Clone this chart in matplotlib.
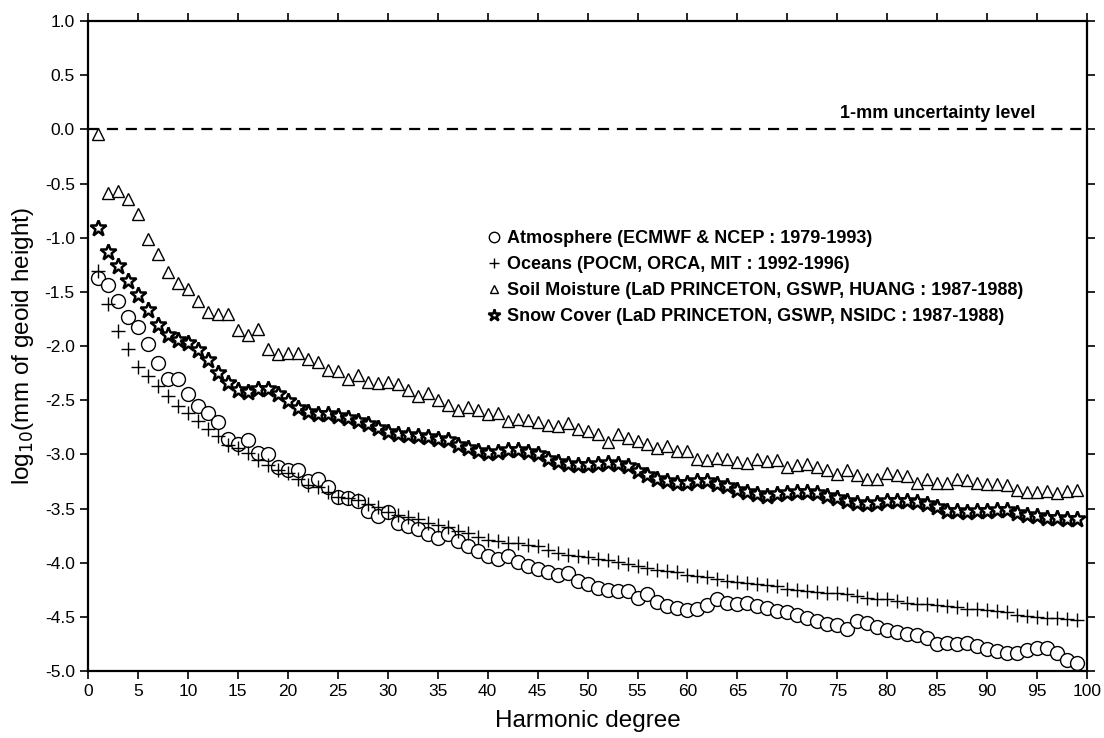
import numpy as np
import matplotlib
matplotlib.use("Agg")
import matplotlib.pyplot as plt
from matplotlib.ticker import MultipleLocator, FormatStrFormatter

plt.rcParams["font.family"] = ["Liberation Sans", "DejaVu Sans"]
plt.rcParams["axes.unicode_minus"] = False

degree = np.arange(1, 100)

atmosphere = [
    -1.37, -1.44, -1.58, -1.73, -1.82, -1.98, -2.16, -2.30, -2.30, -2.44,
    -2.55, -2.62, -2.70, -2.86, -2.90, -2.87, -2.99, -3.00, -3.12, -3.14,
    -3.14, -3.25, -3.23, -3.30, -3.39, -3.40, -3.43, -3.52, -3.57, -3.53,
    -3.63, -3.66, -3.69, -3.74, -3.77, -3.74, -3.80, -3.85, -3.89, -3.94,
    -3.97, -3.94, -3.99, -4.03, -4.06, -4.09, -4.11, -4.10, -4.17, -4.20,
    -4.23, -4.25, -4.26, -4.26, -4.33, -4.29, -4.36, -4.40, -4.42, -4.44,
    -4.43, -4.39, -4.34, -4.37, -4.38, -4.37, -4.40, -4.42, -4.45, -4.46,
    -4.48, -4.51, -4.54, -4.57, -4.58, -4.61, -4.54, -4.56, -4.59, -4.62,
    -4.64, -4.66, -4.67, -4.70, -4.75, -4.74, -4.75, -4.74, -4.77, -4.80,
    -4.82, -4.83, -4.83, -4.81, -4.79, -4.79, -4.83, -4.90, -4.93,
]

oceans = [
    -1.31, -1.61, -1.86, -2.03, -2.19, -2.28, -2.37, -2.46, -2.55, -2.62,
    -2.69, -2.77, -2.83, -2.91, -2.94, -2.99, -3.05, -3.10, -3.14, -3.17,
    -3.23, -3.28, -3.30, -3.35, -3.39, -3.40, -3.42, -3.46, -3.49, -3.53,
    -3.56, -3.58, -3.60, -3.63, -3.65, -3.67, -3.71, -3.73, -3.76, -3.79,
    -3.80, -3.82, -3.82, -3.84, -3.85, -3.88, -3.91, -3.93, -3.94, -3.95,
    -3.97, -3.98, -3.99, -4.01, -4.03, -4.05, -4.07, -4.08, -4.09, -4.11,
    -4.12, -4.13, -4.15, -4.17, -4.18, -4.19, -4.20, -4.21, -4.22, -4.24,
    -4.25, -4.26, -4.27, -4.28, -4.28, -4.29, -4.31, -4.33, -4.34, -4.34,
    -4.35, -4.37, -4.38, -4.38, -4.39, -4.40, -4.41, -4.43, -4.43, -4.44,
    -4.45, -4.46, -4.48, -4.49, -4.50, -4.51, -4.51, -4.52, -4.53,
]

soil_moisture = [
    -0.04, -0.59, -0.57, -0.64, -0.78, -1.01, -1.15, -1.32, -1.42, -1.47,
    -1.58, -1.69, -1.70, -1.70, -1.85, -1.90, -1.84, -2.03, -2.07, -2.06,
    -2.06, -2.12, -2.15, -2.22, -2.23, -2.30, -2.27, -2.33, -2.34, -2.33,
    -2.35, -2.41, -2.46, -2.43, -2.50, -2.54, -2.59, -2.56, -2.59, -2.63,
    -2.62, -2.69, -2.67, -2.68, -2.70, -2.73, -2.74, -2.71, -2.77, -2.78,
    -2.81, -2.89, -2.81, -2.85, -2.88, -2.90, -2.94, -2.92, -2.97, -2.97,
    -3.04, -3.05, -3.03, -3.04, -3.07, -3.08, -3.04, -3.06, -3.05, -3.12,
    -3.10, -3.09, -3.12, -3.14, -3.18, -3.14, -3.19, -3.23, -3.23, -3.17,
    -3.19, -3.20, -3.26, -3.23, -3.26, -3.26, -3.23, -3.24, -3.26, -3.27,
    -3.27, -3.28, -3.33, -3.35, -3.35, -3.34, -3.36, -3.34, -3.33,
]

snow_cover = [
    -0.91, -1.13, -1.26, -1.40, -1.53, -1.67, -1.81, -1.90, -1.94, -1.97,
    -2.04, -2.13, -2.25, -2.34, -2.41, -2.42, -2.40, -2.40, -2.44, -2.51,
    -2.57, -2.61, -2.63, -2.63, -2.65, -2.66, -2.69, -2.72, -2.76, -2.79,
    -2.81, -2.82, -2.83, -2.84, -2.86, -2.87, -2.91, -2.94, -2.97, -2.99,
    -2.98, -2.96, -2.96, -2.98, -3.00, -3.04, -3.07, -3.09, -3.10, -3.10,
    -3.09, -3.08, -3.09, -3.11, -3.15, -3.19, -3.23, -3.25, -3.26, -3.26,
    -3.25, -3.25, -3.27, -3.29, -3.33, -3.35, -3.37, -3.38, -3.37, -3.36,
    -3.35, -3.35, -3.36, -3.38, -3.40, -3.43, -3.45, -3.46, -3.45, -3.43,
    -3.43, -3.43, -3.44, -3.46, -3.49, -3.52, -3.52, -3.53, -3.52, -3.52,
    -3.51, -3.51, -3.54, -3.56, -3.57, -3.59, -3.59, -3.60, -3.60,
]

labels = [
    "Atmosphere (ECMWF & NCEP : 1979-1993)",
    "Oceans (POCM, ORCA, MIT : 1992-1996)",
    "Soil Moisture (LaD PRINCETON, GSWP, HUANG : 1987-1988)",
    "Snow Cover (LaD PRINCETON, GSWP, NSIDC : 1987-1988)",
]

fig = plt.figure(figsize=(11.04, 7.38), dpi=100)
ax = fig.add_axes([0.0797, 0.0908, 0.905, 0.8807])

ax.axhline(0.0, color="black", linewidth=1.6, linestyle=(0, (5, 3.5)), zorder=1)
ax.text(94.8, 0.07, "1-mm uncertainty level", ha="right", va="bottom",
        fontsize=13, fontweight="bold")

ax.plot(degree, atmosphere, linestyle="none", marker="o", markersize=10,
        markerfacecolor="white", markeredgecolor="black", markeredgewidth=1.0,
        label=labels[0])
ax.plot(degree, oceans, linestyle="none", marker="+", markersize=10,
        color="black", markeredgewidth=1.0, label=labels[1])
ax.plot(degree, soil_moisture, linestyle="none", marker="^", markersize=8.5,
        markerfacecolor="white", markeredgecolor="black", markeredgewidth=1.0,
        label=labels[2])
ax.plot(degree, snow_cover, linestyle="none", marker="*", markersize=12,
        markerfacecolor="white", markeredgecolor="black", markeredgewidth=1.8,
        label=labels[3])

leg = ax.legend(loc="upper left", bbox_to_anchor=(0.401, 0.678), frameon=False,
                handlelength=0.6, handletextpad=0.4, labelspacing=0.5,
                markerscale=0.75, borderaxespad=0, borderpad=0,
                prop={"weight": "bold", "size": 13})

ax.set_xlim(0, 100)
ax.set_ylim(-5.0, 1.0)
ax.xaxis.set_major_locator(MultipleLocator(5))
ax.yaxis.set_major_locator(MultipleLocator(0.5))
ax.yaxis.set_major_formatter(FormatStrFormatter("%.1f"))
ax.tick_params(direction="out", length=6, width=1.2, labelsize=12.5,
               top=True, right=True, labeltop=False, labelright=False)

for spine in ax.spines.values():
    spine.set_linewidth(1.6)

ax.set_xlabel("Harmonic degree", fontsize=17.5, labelpad=8)
ax.set_ylabel("log$_{10}$(mm of geoid height)", fontsize=17.5, labelpad=6)

fig.savefig("out.png", dpi=100)
